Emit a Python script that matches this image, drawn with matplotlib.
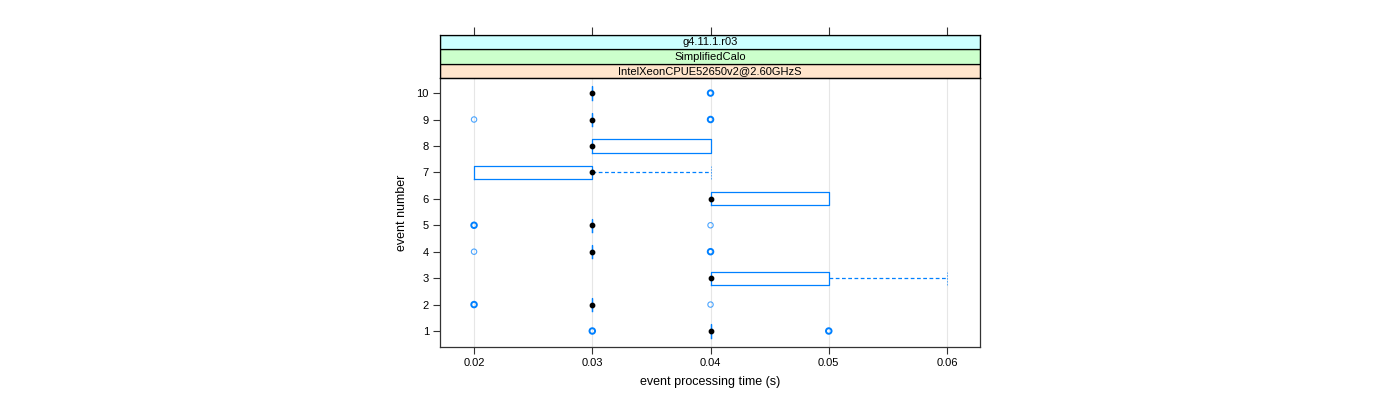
import matplotlib
matplotlib.use("Agg")
import matplotlib.pyplot as plt
from matplotlib.patches import Rectangle

plt.rcParams['font.family'] = ['Liberation Sans', 'DejaVu Sans']

# box summaries per event number (seconds)
events = [1, 2, 3, 4, 5, 6, 7, 8, 9, 10]
q1 = [0.04, 0.03, 0.04, 0.03, 0.03, 0.04, 0.02, 0.03, 0.03, 0.03]
median = [0.04, 0.03, 0.04, 0.03, 0.03, 0.04, 0.03, 0.03, 0.03, 0.03]
q3 = [0.04, 0.03, 0.05, 0.03, 0.03, 0.05, 0.03, 0.04, 0.03, 0.03]
whislo = [0.04, 0.03, 0.04, 0.03, 0.03, 0.04, 0.02, 0.03, 0.03, 0.03]
whishi = [0.04, 0.03, 0.06, 0.03, 0.03, 0.05, 0.04, 0.04, 0.03, 0.03]

# outliers: (event, value); strong = overplotted several times
outliers_strong = [(1, 0.03), (1, 0.05), (2, 0.02), (4, 0.04),
                   (5, 0.02), (9, 0.04), (10, 0.04)]
outliers_faint = [(2, 0.04), (4, 0.02), (5, 0.04), (9, 0.02)]

x_ticks = [0.02, 0.03, 0.04, 0.05, 0.06]
x_ticklabels = ['0.02', '0.03', '0.04', '0.05', '0.06']
strips = ['IntelXeonCPUE52650v2@2.60GHzS', 'SimplifiedCalo', 'g4.11.1.r03']
strip_colors = ['#ffe5cc', '#ccffcc', '#ccffff']

blue = '#0080ff'
xlim = (0.01712, 0.06279)

fig = plt.figure(figsize=(14, 4), dpi=100)
ax = fig.add_axes([440 / 1400, 1 - 347 / 400, 540 / 1400, 269 / 400])

for x in x_ticks:
    ax.axvline(x, color='#e6e6e6', lw=0.8, zorder=0)

stats = []
for i in range(len(events)):
    stats.append(dict(med=median[i], q1=q1[i], q3=q3[i],
                      whislo=whislo[i], whishi=whishi[i], fliers=[]))
ax.bxp(stats, positions=events, widths=0.5, orientation='horizontal',
       showfliers=False, capwidths=0.5, manage_ticks=False,
       boxprops=dict(color=blue, lw=0.9),
       whiskerprops=dict(color=blue, lw=0.9, ls=(0, (3, 2))),
       capprops=dict(color=blue, lw=0.6, ls=(0, (2, 1.5)), alpha=0.7),
       medianprops=dict(visible=False))

ax.scatter(median, events, s=10, color='black', zorder=5)
ax.scatter([v for e, v in outliers_strong], [e for e, v in outliers_strong],
           s=16, facecolors='none', edgecolors=blue, linewidths=1.4, zorder=4)
ax.scatter([v for e, v in outliers_faint], [e for e, v in outliers_faint],
           s=15, facecolors='none', edgecolors=blue, linewidths=0.8,
           alpha=0.7, zorder=4)

ax.set_xlim(*xlim)
ax.set_ylim(0.395, 10.57)
ax.set_xticks(x_ticks)
ax.set_xticklabels(x_ticklabels)
ax.set_yticks(events)
ax.tick_params(labelsize=8, length=5, width=0.8, color='#333333', pad=3)
for sp in ax.spines.values():
    sp.set_color('#333333')
    sp.set_linewidth(0.9)
ax.set_xlabel('event processing time (s)', fontsize=9, labelpad=6)
ax.set_ylabel('event number', fontsize=9, labelpad=6)

# strips above the panel
sax = fig.add_axes([440 / 1400, 1 - 78 / 400, 540 / 1400, 43 / 400])
sax.set_xlim(*xlim)
sax.set_ylim(0, len(strips))
for i, (label, col) in enumerate(zip(strips, strip_colors)):
    sax.add_patch(Rectangle((xlim[0], i), xlim[1] - xlim[0], 1,
                            facecolor=col, edgecolor='black', lw=0.9))
    sax.text(sum(xlim) / 2, i + 0.48, label, ha='center', va='center',
             fontsize=8)
sax.set_xticks(x_ticks)
sax.tick_params(axis='x', top=True, bottom=False, labeltop=False,
                labelbottom=False, length=6, width=0.8, color='#333333')
sax.set_yticks([])
for sp in sax.spines.values():
    sp.set_color('black')
    sp.set_linewidth(0.9)

fig.savefig('out.png', dpi=100)
